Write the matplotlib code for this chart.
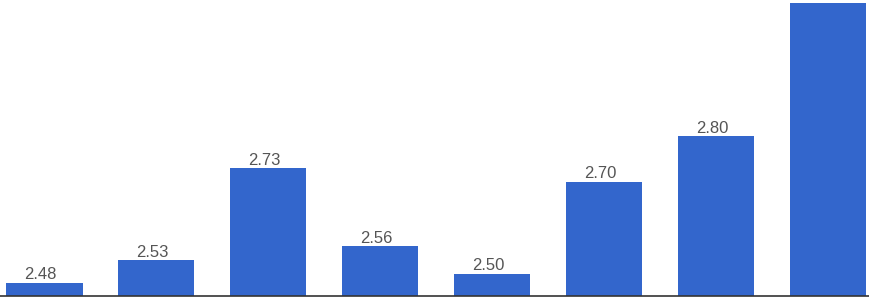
import matplotlib
matplotlib.use('Agg')
import matplotlib.pyplot as plt

# %% Dane
kategorie = ['1', '2', '3', '4', '5', '6', '7', '8']
wartosci = [2.48, 2.53, 2.73, 2.56, 2.50, 2.70, 2.80, 3.09]
# ostatnia etykieta wychodzi poza kadr w oryginale, więc jej nie rysujemy
etykiety = ['2.48', '2.53', '2.73', '2.56', '2.50', '2.70', '2.80', '']

# %% Wykres słupkowy
plt.rcParams['font.family'] = ['Liberation Sans', 'DejaVu Sans']
fig = plt.figure(figsize=(8.69, 2.99), dpi=100)
ax = fig.add_axes([0, 3 / 299, 1, 296 / 299])

pozycje = list(range(len(kategorie)))
dno = 2.452
ax.bar(pozycje, [w - dno for w in wartosci], bottom=dno, width=0.68, color='#3366CC')

for x, w, t in zip(pozycje, wartosci, etykiety):
    if t:
        ax.annotate(t, (x, w), xytext=(-3, 0.5), textcoords='offset points',
                    ha='center', va='bottom', fontsize=12, color='#555555')

ax.set_xlim(-0.397, 7.366)
ax.set_ylim(dno, 3.097)
ax.axhline(dno, color='#333333', linewidth=1.2, clip_on=False)
for s in ax.spines.values():
    s.set_visible(False)
ax.set_xticks([])
ax.set_yticks([])

plt.savefig('out.png', dpi=100)
